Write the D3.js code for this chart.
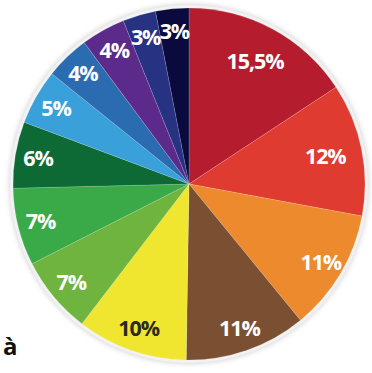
<!DOCTYPE html>
<html>
<head>
<meta charset="utf-8">
<script src="https://cdn.jsdelivr.net/npm/d3@7"></script>
<style>
  html, body { margin: 0; padding: 0; background: #ffffff; }
  svg { display: block; }
</style>
</head>
<body>
<svg id="chart" width="372" height="373"></svg>
<script>
const labels = ["15,5%", "12%", "11%", "11%", "10%", "7%", "7%", "6%", "5%", "4%", "4%", "3%", "3%"];
const values = [15.5, 12, 11, 11, 10, 7, 7, 6, 5, 4, 4, 3, 3];
const colors = ["#b51d2e", "#e03b31", "#ec8a2d", "#7b4f31", "#f1e62f", "#6eb43f", "#3aaa48", "#0e6a35", "#39a0d9", "#2b6cb1", "#5b2a8b", "#283283", "#0a0a3e"];
const textColors = ["#ffffff", "#ffffff", "#ffffff", "#ffffff", "#2b2a1c", "#ffffff", "#ffffff", "#ffffff", "#ffffff", "#ffffff", "#ffffff", "#ffffff", "#ffffff"];

const svg = d3.select("#chart");
const cx = 189, cy = 184, r = 176;

const defs = svg.append("defs");
const f = defs.append("filter").attr("id", "glow").attr("x", "-10%").attr("y", "-10%").attr("width", "120%").attr("height", "120%");
f.append("feGaussianBlur").attr("stdDeviation", 2.5);

svg.append("circle").attr("cx", cx).attr("cy", cy).attr("r", r + 4)
  .attr("fill", "#d8d8d8").attr("filter", "url(#glow)");
svg.append("circle").attr("cx", cx).attr("cy", cy).attr("r", r + 3)
  .attr("fill", "#f2f2f2");

const g = svg.append("g").attr("transform", `translate(${cx},${cy})`);
const pie = d3.pie().sort(null).value(d => d)(values);
const arc = d3.arc().innerRadius(0).outerRadius(r);

g.selectAll("path").data(pie).join("path")
  .attr("d", arc)
  .attr("fill", (d, i) => colors[i])
  .attr("stroke", "rgba(255,255,255,0.25)")
  .attr("stroke-width", 0.6);

g.selectAll("text").data(pie).join("text")
  .attr("transform", (d, i) => {
    const lr = (i < 2 ? 0.79 : 0.87) * r;
    const a = (d.startAngle + d.endAngle) / 2;
    return `translate(${Math.sin(a) * lr},${-Math.cos(a) * lr})`;
  })
  .attr("text-anchor", "middle")
  .attr("dy", "0.36em")
  .attr("font-family", "'Open Sans', sans-serif")
  .attr("font-weight", 700)
  .attr("font-size", 21.5)
  .attr("letter-spacing", -1.1)
  .attr("fill", (d, i) => textColors[i])
  .text((d, i) => labels[i]);

svg.append("text").attr("x", 3).attr("y", 355)
  .attr("font-family", "'Open Sans', sans-serif")
  .attr("font-weight", 700).attr("font-size", 24)
  .attr("fill", "#111").text("à");
</script>
</body>
</html>
